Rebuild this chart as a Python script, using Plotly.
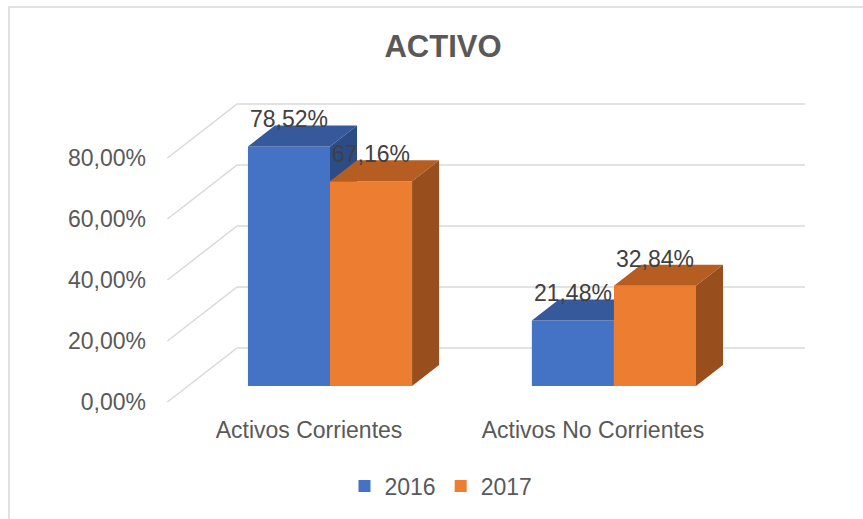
import plotly.graph_objects as go

# ---------------- data ----------------
categories = ["Activos Corrientes", "Activos No Corrientes"]
series_names = ["2016", "2017"]
values_2016 = [78.52, 21.48]
values_2017 = [67.16, 32.84]
labels_2016 = ["78,52%", "21,48%"]
labels_2017 = ["67,16%", "32,84%"]
y_ticks = [0, 20, 40, 60, 80]
y_tick_labels = ["0,00%", "20,00%", "40,00%", "60,00%", "80,00%"]

# ---------------- layout geometry ----------------
W, H = 863, 519
L, R, T, B = 150, 830, 70, 414
XR = [-0.634, 1.761]
YR = [-9.18, 103.6]
kx = (R - L) / (XR[1] - XR[0])   # px per x unit
ky = (B - T) / (YR[1] - YR[0])   # px per y unit


def px_to_units(dx_px, dy_px):
    return dx_px / kx, -dy_px / ky


BW = 0.289                      # bar width (x units)
DEPTH = px_to_units(27, -21)    # bar depth vector
FRONT = px_to_units(-20.6, 16)  # floor front edge offset
BACK = px_to_units(49, -38)     # back wall offset
WALL_X = [-0.5, 1.5]

styles = [
    dict(front="#4472C4", top="#36599C", side="#2C4C88"),
    dict(front="#ED7D31", top="#B65D22", side="#984F1D"),
]
series_values = [values_2016, values_2017]
series_labels = [labels_2016, labels_2017]
offsets = [-BW, 0.0]

fig = go.Figure()

# ---- 3D gridlines (side wall diagonal + back wall horizontal) ----
gx, gy = [], []
for t in y_ticks:
    gx += [WALL_X[0] + FRONT[0], WALL_X[0] + BACK[0], WALL_X[1] + BACK[0], None]
    gy += [t + FRONT[1], t + BACK[1], t + BACK[1], None]
fig.add_trace(go.Scatter(x=gx, y=gy, mode="lines", line=dict(color="#D9D9D9", width=1.5),
                         hoverinfo="skip", showlegend=False, xaxis="x", yaxis="y"))

xs = list(range(len(categories)))
for s, (name, vals, st, off) in enumerate(zip(series_names, series_values, styles, offsets)):
    xa = "x%d" % (s + 2)
    ya = "y%d" % (s + 2)
    fig.add_trace(go.Bar(x=xs, y=vals, width=BW, offset=off, name=name,
                         marker=dict(color=st["front"], line=dict(width=0)),
                         xaxis=xa, yaxis=ya, hoverinfo="skip"))
    for i, v in zip(xs, vals):
        x0 = i + off
        x1 = x0 + BW
        dx, dy = DEPTH
        # top face
        fig.add_trace(go.Scatter(
            x=[x0, x0 + dx, x1 + dx, x1, x0], y=[v, v + dy, v + dy, v, v],
            fill="toself", fillcolor=st["top"], mode="lines", line=dict(width=0, color=st["top"]),
            hoverinfo="skip", showlegend=False, xaxis=xa, yaxis=ya))
        # side face
        fig.add_trace(go.Scatter(
            x=[x1, x1 + dx, x1 + dx, x1, x1], y=[0, dy, v + dy, v, 0],
            fill="toself", fillcolor=st["side"], mode="lines", line=dict(width=0, color=st["side"]),
            hoverinfo="skip", showlegend=False, xaxis=xa, yaxis=ya))

# ---- data labels ----
tx, ty, tt = [], [], []
for vals, labs, off in zip(series_values, series_labels, offsets):
    for i, v, lab in zip(xs, vals, labs):
        tx.append(i + off + BW / 2)
        ty.append(v + DEPTH[1] + 4 / ky)
        tt.append(lab)
fig.add_trace(go.Scatter(x=tx, y=ty, text=tt, mode="text",
                         textfont=dict(family="Liberation Sans, Arial", size=23, color="#404040"),
                         textposition="middle center", hoverinfo="skip", showlegend=False,
                         xaxis="x4", yaxis="y4"))

hidden = dict(visible=False, showgrid=False, zeroline=False)
fig.update_layout(
    width=W, height=H,
    margin=dict(l=L, r=W - R, t=T, b=H - B),
    paper_bgcolor="white", plot_bgcolor="rgba(0,0,0,0)",
    font=dict(family="Liberation Sans, Arial", color="#595959", size=23),
    title=dict(text="<b>ACTIVO</b>", x=443 / W, xanchor="center",
               yref="container", y=1 - 46 / H, yanchor="middle",
               font=dict(size=31, color="#595959")),
    barmode="overlay",
    showlegend=True,
    legend=dict(orientation="h", x=441 / W, xanchor="center", xref="container",
                yref="container", y=1 - 486 / H, yanchor="middle",
                font=dict(size=23, color="#595959"), itemwidth=30),
    xaxis=dict(range=XR, tickvals=xs, ticktext=categories, ticklabelshift=-21,
               showgrid=False, zeroline=False, showline=False, ticks="",
               tickfont=dict(size=23, color="#595959")),
    yaxis=dict(range=YR, tickvals=y_ticks, ticktext=y_tick_labels, ticklabelshift=16,
               ticklabelstandoff=3,
               showgrid=False, zeroline=False, showline=False, ticks="",
               tickfont=dict(size=23, color="#595959")),
    xaxis2=dict(range=XR, overlaying="x", **hidden),
    yaxis2=dict(range=YR, overlaying="y", **hidden),
    xaxis3=dict(range=XR, overlaying="x", **hidden),
    yaxis3=dict(range=YR, overlaying="y", **hidden),
    xaxis4=dict(range=XR, overlaying="x", **hidden),
    yaxis4=dict(range=YR, overlaying="y", **hidden),
)

# chart border
fig.add_shape(type="rect", xref="paper", yref="paper",
              x0=(9 - L) / (R - L), x1=(875 - L) / (R - L),
              y0=(B - 535) / (B - T), y1=(B - 7) / (B - T),
              line=dict(color="#D9D9D9", width=1.5), fillcolor="rgba(0,0,0,0)", layer="below")

fig.write_html("out.html", config={"displayModeBar": False},
               post_script="document.body.style.margin='0';")
